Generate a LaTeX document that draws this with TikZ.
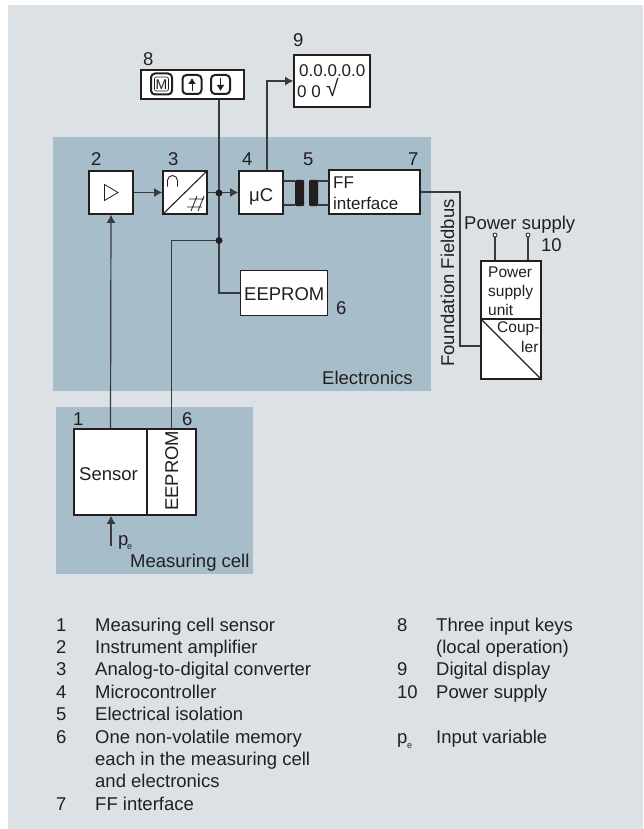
\documentclass[tikz,border=0pt]{standalone}
\usepackage{fontspec}
\setmainfont{Liberation Sans}
\usetikzlibrary{arrows.meta}
\definecolor{bgc}{HTML}{DBE1E5}
\definecolor{panelc}{HTML}{A7BDC9}
\definecolor{linec}{HTML}{3A3A3C}
\definecolor{textc}{HTML}{231F20}
\tikzset{
 x=1pt,y=-1pt,
 wire/.style={draw=linec,line width=1.2pt},
 box/.style={draw=textc,fill=white,line width=1.6pt,inner sep=0pt},
 lab/.style={inner sep=0pt,text=textc,anchor=base west,font=\fontsize{18.5}{22}\selectfont},
 small/.style={inner sep=0pt,text=textc,anchor=base west,font=\fontsize{15.5}{18}\selectfont},
 mid/.style={inner sep=0pt,text=textc,anchor=base west,font=\fontsize{17}{20}\selectfont},
 sub/.style={inner sep=0pt,text=textc,anchor=base west,font=\fontsize{9}{10}\selectfont},
 tip/.style={-{Latex[length=8pt,width=9pt]}},
 dotc/.style={circle,fill=textc,inner sep=0pt,minimum size=7pt},
 term/.style={circle,draw=textc,fill=white,inner sep=0pt,minimum size=4pt,line width=.8pt},
 key/.style={draw=textc,fill=white,line width=2pt,rounded corners=4pt,minimum size=19pt,inner sep=0pt},
}
\begin{document}
\begin{tikzpicture}
\useasboundingbox (0,0) rectangle (643,829);
\fill[white] (0,0) rectangle (643,829);
\fill[bgc] (8,5) rectangle (643,829);
\fill[panelc] (53,137) rectangle (431,391);
\fill[panelc] (56,407) rectangle (253,574);
% coordinates
\coordinate (j1) at (219,193);
\coordinate (j2) at (219,240.5);
\coordinate (fb1) at (460,192);
\coordinate (fb2) at (460,346);
\coordinate (ucout) at (267,171);
\coordinate (t1) at (495,235);
\coordinate (t2) at (528,235);
\coordinate (pbot) at (111,546);
% boxes
\node[box,minimum width=44pt,minimum height=43pt] (amp) at (111,192.5) {};
\node[box,minimum width=44pt,minimum height=43pt] (adc) at (185,192.5) {};
\node[box,minimum width=44pt,minimum height=43pt] (uc) at (261,192.5) {};
\node[box,minimum width=91pt,minimum height=44pt] (ff) at (374.5,192) {};
\node[box,minimum width=103pt,minimum height=29pt] (keys) at (192.5,84.5) {};
\node[box,minimum width=76pt,minimum height=52pt] (disp) at (332,81) {};
\node[box,minimum width=87pt,minimum height=45pt] (eep) at (284,293) {};
\node[box,minimum width=73pt,minimum height=86pt] (sens) at (110.5,472) {};
\node[box,minimum width=49pt,minimum height=86pt] (eep2) at (171.5,472) {};
\node[box,minimum width=60pt,minimum height=58pt] (psu) at (511,290) {};
\node[box,minimum width=60pt,minimum height=60pt] (coup) at (511,349) {};
% wires
\draw[wire] (keys.south -| j1) -- (j2) |- (eep.west);
\draw[wire] (j2) -| (eep2.north);
\draw[wire,tip] (sens.north) -- (amp.south);
\draw[wire,tip] (amp.east) -- (adc.west);
\draw[wire,tip] (adc.east) -- (uc.west);
\draw[wire,tip] (ucout) |- (disp.west);
\draw[wire] (ff.east |- fb1) -- (fb1) -- (fb2) -- (coup.west |- fb2);
\draw[wire,tip] (pbot) -- (sens.south -| pbot);
\draw[wire] (t1) -- (t1 |- psu.north);
\draw[wire] (t2) -- (t2 |- psu.north);
\node[term] (tt1) at (t1) {};
\node[term] (tt2) at (t2) {};
\node[dotc] (d1) at (j1) {};
\node[dotc] (d2) at (j2) {};
% isolation
\draw[wire] (283,181) -- (295,181) (283,205) -- (295,205);
\draw[wire] (318,181) -- (329,181) (318,205) -- (329,205);
\fill[textc,rounded corners=1pt] (295,180) rectangle (304,206);
\fill[textc,rounded corners=1pt] (309,180) rectangle (318,206);
% inner drawings
\draw[textc,line width=1.1pt] (adc.south west) -- (adc.north east);
\draw[textc,line width=.8pt] (104.5,184.5) -- (118,192.5) -- (104.5,200.5) -- cycle;
\draw[textc,line width=.9pt] (167.5,186.5) -- (167.5,180.5) arc (180:360:5) -- (177.5,186.5);
\draw[textc,line width=.8pt] (189,199) -- (204,199) (187,207) -- (202,207) (197,196) -- (191,211) (204,196) -- (198,211);
\draw[textc,line width=1.1pt] (coup.north west) -- (coup.south east);
% keys
\node[key,minimum size=21pt] (km) at (161.5,84) {};
\draw[textc,line width=.6pt,rounded corners=2pt] (154.5,77) rectangle (168.5,91);
\node[inner sep=0pt,text=textc,font=\fontsize{14}{16}\selectfont] (mtxt) at (161.5,84.5) {M};
\node[key] (k1) at (192,84.5) {};
\node[key] (k2) at (220.5,84.5) {};
\draw[textc,line width=1pt,-{Latex[length=6pt,width=8pt]}] (192,91) -- (192,78);
\draw[textc,line width=1pt,-{Latex[length=6pt,width=8pt]}] (220.5,78) -- (220.5,91);
% labels
\node[lab] (n8) at (143,66) {8};
\node[lab] (n9) at (293,47) {9};
\node[lab] (n2) at (91,166) {2};
\node[lab] (n3) at (168,166) {3};
\node[lab] (n4) at (242,166) {4};
\node[lab] (n5) at (303,166) {5};
\node[lab] (n7) at (408,166) {7};
\node[lab] (n6a) at (336,314) {6};
\node[lab] (n1) at (73,425) {1};
\node[lab] (n6b) at (182,425) {6};
\node[lab] (n10) at (541,251) {10};
\node[lab] (tps) at (464,229) {Power supply};
\node[lab] (tuc) at (249,201) {μC};
\node[mid] (tff) at (333,188) {FF};
\node[mid] (tif) at (333,209) {interface};
\node[mid] (td1) at (299,77) {0.0.0.0.0};
\node[mid] (td2) at (297,98) {0 0};
\node[inner sep=0pt,text=textc,anchor=base west,font=\fontsize{23}{24}\selectfont] (td3) at (326,97) {√};
\node[lab] (tee) at (244,300.5) {EEPROM};
\node[lab] (tel) at (322,384) {Electronics};
\node[lab] (tse) at (79,480) {Sensor};
\node[lab,rotate=90] (te2) at (178,511) {EEPROM};
\node[lab,rotate=90] (tfb) at (454,367) {Foundation Fieldbus};
\node[lab] (tme) at (130,567) {Measuring cell};
\node[lab] (tp) at (118,545) {p};
\node[sub] (te) at (127,549) {e};
\node[small] (tp1) at (488,277) {Power};
\node[small] (tp2) at (488,296) {supply};
\node[small] (tp3) at (488,315) {unit};
\node[small] (tc1) at (497,332) {Coup-};
\node[small] (tc2) at (521,352) {ler};
% legend
\foreach \n/\t [count=\i from 0] in {1/Measuring cell sensor,2/Instrument amplifier,3/Analog-to-digital converter,4/Microcontroller,5/Electrical isolation,6/One non-volatile memory}{
 \node[lab] at (56,631+22.4*\i) {\n};
 \node[lab] at (95,631+22.4*\i) {\t};
}
\node[lab] (l6b) at (95,765) {each in the measuring cell};
\node[lab] (l6c) at (95,787.5) {and electronics};
\node[lab] (l7n) at (56,810) {7};
\node[lab] (l7) at (95,810) {FF interface};
\node[lab] (l8n) at (397,631) {8};
\node[lab] (l8) at (436,631) {Three input keys};
\node[lab] (l8b) at (436,653.4) {(local operation)};
\node[lab] (l9n) at (397,675.8) {9};
\node[lab] (l9) at (436,675.8) {Digital display};
\node[lab] (l10n) at (397,698.2) {10};
\node[lab] (l10) at (436,698.2) {Power supply};
\node[lab] (lpn) at (397,743) {p};
\node[sub] (lpe) at (407,748) {e};
\node[lab] (lp) at (436,743) {Input variable};
\end{tikzpicture}
\end{document}
